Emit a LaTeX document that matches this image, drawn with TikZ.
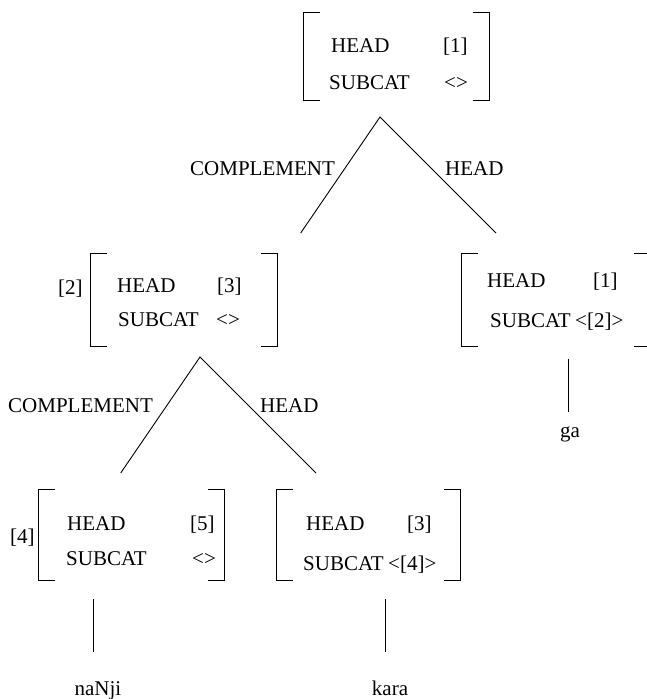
\documentclass[tikz,border=0pt]{standalone}
\usepackage{fontspec}
\setmainfont{Liberation Serif}
\newcommand{\avmbrk}[1]{%
  \draw[brk] ([xshift=16pt]#1.north west) -| (#1.south west) -- ++(16,0);
  \draw[brk] ([xshift=-16pt]#1.north east) -| (#1.south east) -- ++(-16,0);}
\begin{document}
\begin{tikzpicture}[x=1pt,y=-1pt]
        \tikzset{feat/.style={anchor=base west, inner sep=0pt,
                    font=\fontsize{21}{24}\selectfont},
                 word/.style={anchor=base, inner sep=0pt,
                    font=\fontsize{21}{24}\selectfont},
                 avm/.style={rectangle, inner sep=0pt},
                 brk/.style={line width=0.9pt, line cap=rect},
                 branch/.style={line width=0.9pt}}
        \useasboundingbox (0,0) rectangle (646,699);
        % top
        \node[avm, minimum width=185, minimum height=87] (top) at (396.5,56.5) {};
        \avmbrk{top}
        \node[feat] (topf1) at (331,52) {HEAD};
        \node[feat] (topv1) at (443,52) {[1]};
        \node[feat] (topf2) at (329,89) {SUBCAT};
        \node[feat] (topv2) at (444,89) {<>};
        \coordinate (topapex) at (380,117);
        \coordinate (topl) at (300.7,233);
        \coordinate (topr) at (496,233);
        \draw[branch] (topl) -- (topapex) -- (topr);
        \node[feat] (toplab1) at (190,175) {COMPLEMENT};
        \node[feat] (toplab2) at (445,175) {HEAD};
        % complement
        \node[avm, minimum width=187, minimum height=92] (mid) at (184.2,300) {};
        \avmbrk{mid}
        \node[feat] (midtag) at (58,294) {[2]};
        \node[feat] (midf1) at (117,292) {HEAD};
        \node[feat] (midv1) at (217,292) {[3]};
        \node[feat] (midf2) at (118,326) {SUBCAT};
        \node[feat] (midv2) at (216,326) {<>};
        \coordinate (midapex) at (200,357);
        \coordinate (midl) at (120.7,473);
        \coordinate (midr) at (316,473);
        \draw[branch] (midl) -- (midapex) -- (midr);
        \node[feat] (midlab1) at (8,412) {COMPLEMENT};
        \node[feat] (midlab2) at (260,412) {HEAD};
        % head
        \node[avm, minimum width=188, minimum height=92] (rgt) at (556,300) {};
        \avmbrk{rgt}
        \node[feat] (rgtf1) at (487,287) {HEAD};
        \node[feat] (rgtv1) at (593,287) {[1]};
        \node[feat] (rgtf2) at (490,327) {SUBCAT};
        \node[feat] (rgtv2) at (575,327) {<[2]>};
        \coordinate (rgtdown) at (568,359);
        \node[word] (ga) at (570,437) {ga};
        \coordinate (gaup) at (568,412);
        \draw[branch] (rgtdown) -- (gaup);
        % bottom left
        \node[avm, minimum width=185, minimum height=90] (botl) at (131.5,535) {};
        \avmbrk{botl}
        \node[feat] (botltag) at (10,543) {[4]};
        \node[feat] (botlf1) at (67,530) {HEAD};
        \node[feat] (botlv1) at (190,530) {[5]};
        \node[feat] (botlf2) at (66,565) {SUBCAT};
        \node[feat] (botlv2) at (192,565) {<>};
        \coordinate (botldown) at (93,599);
        \node[word] (nanji) at (98,695) {naNji};
        \coordinate (nanjiup) at (93,652);
        \draw[branch] (botldown) -- (nanjiup);
        % bottom middle
        \node[avm, minimum width=183, minimum height=90] (botm) at (368.5,535) {};
        \avmbrk{botm}
        \node[feat] (botmf1) at (306,530) {HEAD};
        \node[feat] (botmv1) at (407,530) {[3]};
        \node[feat] (botmf2) at (303,570) {SUBCAT};
        \node[feat] (botmv2) at (388,570) {<[4]>};
        \coordinate (botmdown) at (385,599);
        \node[word] (kara) at (390,695) {kara};
        \coordinate (karaup) at (385,652);
        \draw[branch] (botmdown) -- (karaup);
    \end{tikzpicture}
\end{document}
